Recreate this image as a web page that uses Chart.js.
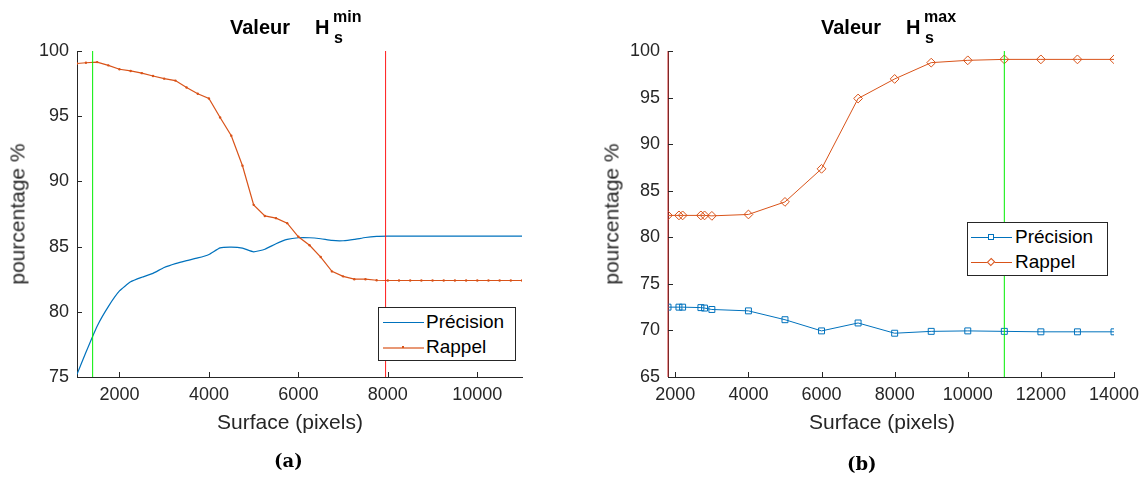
<!DOCTYPE html>
<html lang="fr">
<head>
<meta charset="UTF-8">
<title>Valeur Hs min / max</title>
<script src="https://cdn.jsdelivr.net/npm/chart.js"></script>
<style>
    body { margin: 0; background: #fff; width: 1139px; height: 477px; position: relative; overflow: hidden;
           font-family: "Liberation Sans", Arial, sans-serif; color: #262626; }
    .panel { position: absolute; top: 0; }
    .t { position: absolute; font-weight: bold; color: #000; line-height: 1; white-space: nowrap; }
    .big { font-size: 20px; }
    .small { font-size: 16px; }
    .axt { position: absolute; font-size: 21px; line-height: 1; white-space: nowrap; color: #262626;
           transform: translate(-50%, -50%); }
    .axt.rot { transform: translate(-50%, -50%) rotate(-90deg); }
    .legend { position: absolute; border: 1px solid #262626; background: #fff; box-sizing: border-box; font-size: 19px; }
    .row { position: absolute; left: 0; right: 0; height: 22px; }
    .row span { position: absolute; top: 0; line-height: 22px; color: #000; }
    .sample { position: absolute; top: 11px; height: 0; border-top: 1px solid; }
    .mk { position: absolute; box-sizing: border-box; border: 1px solid; background: transparent; }
    .caption { position: absolute; font-family: "DejaVu Serif", "Liberation Serif", serif; font-weight: bold;
               font-size: 18px; color: #000; line-height: 1; }
</style>
</head>
<body>

<div class="panel" style="left:0; width:560px; height:440px;">
    <canvas id="chartMin" width="560" height="440"></canvas>
</div>
<div class="panel" style="left:590px; width:549px; height:440px;">
    <canvas id="chartMax" width="549" height="440"></canvas>
</div>

<!-- titles -->
<div class="t big" style="left:230px; top:17px;">Valeur</div>
<div class="t big" style="left:315px; top:17px;">H</div>
<div class="t small" style="left:333px; top:9px;">min</div>
<div class="t small" style="left:334px; top:30px;">s</div>

<div class="t big" style="left:821px; top:17px;">Valeur</div>
<div class="t big" style="left:906px; top:17px;">H</div>
<div class="t small" style="left:924px; top:9px;">max</div>
<div class="t small" style="left:925px; top:30px;">s</div>

<!-- axis titles -->
<div class="axt rot" style="left:17px; top:214px;">pourcentage %</div>
<div class="axt" style="left:290px; top:421px;">Surface (pixels)</div>
<div class="axt rot" style="left:611px; top:214px;">pourcentage %</div>
<div class="axt" style="left:882px; top:421px;">Surface (pixels)</div>

<!-- legends -->
<div class="legend" style="left:378px; top:307px; width:138px; height:54px;">
    <div class="row" style="top:3px;">
        <div class="sample" style="left:4px; width:41px; border-color:#0072BD;"></div>
        <span style="left:47px;">Précision</span>
    </div>
    <div class="row" style="top:28px;">
        <div class="sample" style="left:4px; width:41px; border-color:#D95319; border-top-width:2px; opacity:0.6;"></div>
        <div class="mk" style="left:23px; top:10px; width:2px; height:2px; background:#D95319; border-color:#D95319;"></div>
        <span style="left:47px;">Rappel</span>
    </div>
</div>

<div class="legend" style="left:967px; top:222px; width:141px; height:54px;">
    <div class="row" style="top:3px;">
        <div class="sample" style="left:3px; width:41px; border-color:#0072BD;"></div>
        <div class="mk" style="left:20px; top:8px; width:6px; height:6px; border-color:#0072BD; background:#fff;"></div>
        <span style="left:47px;">Précision</span>
    </div>
    <div class="row" style="top:28px;">
        <div class="sample" style="left:3px; width:41px; border-color:#D95319;"></div>
        <div class="mk" style="left:20px; top:8px; width:6px; height:6px; border-color:#D95319; background:#fff; transform:rotate(45deg) scale(0.95,1.05);"></div>
        <span style="left:47px;">Rappel</span>
    </div>
</div>

<div class="caption" style="left:274px; top:452px;">(a)</div>
<div class="caption" style="left:847px; top:455px;">(b)</div>

<script>
    // ---- data (a) : Hs min ----
    const surfaceMin = [1050, 1250, 1500, 1750, 2000, 2250, 2500, 2750, 3000, 3250, 3500, 3750, 4000,
        4250, 4500, 4750, 5000, 5250, 5500, 5750, 6000, 6250, 6500, 6750, 7000, 7250, 7500, 7750,
        8000, 8250, 8500, 8750, 9000, 9250, 9500, 9750, 10000, 10250, 10500, 10750, 11000];
    const precisionMin = [75.2, 76.9, 78.9, 80.4, 81.6, 82.3, 82.65, 82.95, 83.4, 83.7, 83.93, 84.13, 84.4,
        84.9, 84.96, 84.88, 84.6, 84.8, 85.22, 85.55, 85.68, 85.68, 85.6, 85.47, 85.45, 85.55, 85.7, 85.78,
        85.8, 85.8, 85.8, 85.8, 85.8, 85.8, 85.8, 85.8, 85.8, 85.8, 85.8, 85.8, 85.8];
    const rappelMin = [99.04, 99.1, 99.15, 98.9, 98.6, 98.47, 98.3, 98.08, 97.88, 97.73, 97.2, 96.72, 96.36,
        94.9, 93.5, 91.2, 88.2, 87.35, 87.18, 86.8, 85.75, 85.1, 84.2, 83.1, 82.72, 82.5, 82.5, 82.42,
        82.4, 82.4, 82.4, 82.4, 82.4, 82.4, 82.4, 82.4, 82.4, 82.4, 82.4, 82.4, 82.4];
    const markersMin = { green: 1400, red: 7950 };
    const xTicksMin = [2000, 4000, 6000, 8000, 10000];
    const yTicksMin = [75, 80, 85, 90, 95, 100];

    // ---- data (b) : Hs max ----
    const surfaceMax = [1800, 2100, 2200, 2700, 2800, 3000, 4000, 5000, 6000, 7000, 8000, 9000, 10000,
        11000, 12000, 13000, 14000];
    const precisionMax = [72.5, 72.5, 72.5, 72.45, 72.4, 72.25, 72.1, 71.15, 69.95, 70.8, 69.7, 69.9, 69.95,
        69.9, 69.85, 69.85, 69.85];
    const rappelMax = [82.35, 82.35, 82.35, 82.35, 82.35, 82.3, 82.45, 83.8, 87.35, 94.9, 97.0, 98.75, 99.0,
        99.1, 99.1, 99.1, 99.1];
    const markersMax = { green: 11000, red: 1800 };
    const xTicksMax = [2000, 4000, 6000, 8000, 10000, 12000, 14000];
    const yTicksMax = [65, 70, 75, 80, 85, 90, 95, 100];

    const BLUE = '#0072BD';
    const ORANGE = '#D95319';
    const AXIS = '#262626';

    const toPoints = (xs, ys) => xs.map((x, i) => ({ x: x, y: ys[i] }));
    const vline = (x, y0, y1, color) => ({
        data: [{ x: x, y: y0 }, { x: x, y: y1 }],
        borderColor: color, borderWidth: 1, pointRadius: 0, clip: false, order: 0
    });

    // small inward tick marks, MATLAB style
    const innerTicks = {
        id: 'innerTicks',
        afterDraw(chart) {
            const { ctx, chartArea, scales: { x, y } } = chart;
            ctx.save();
            ctx.strokeStyle = AXIS;
            ctx.lineWidth = 1;
            x.ticks.forEach(t => {
                const px = Math.round(x.getPixelForValue(t.value)) + 0.5;
                ctx.beginPath();
                ctx.moveTo(px, chartArea.bottom);
                ctx.lineTo(px, chartArea.bottom - 5);
                ctx.stroke();
            });
            y.ticks.forEach(t => {
                const py = Math.round(y.getPixelForValue(t.value)) + 0.5;
                ctx.beginPath();
                ctx.moveTo(chartArea.left, py);
                ctx.lineTo(chartArea.left + 5, py);
                ctx.stroke();
            });
            ctx.restore();
        }
    };

    function makeChart(id, cfg) {
        const font = { family: '"Liberation Sans", Arial, sans-serif', size: 18 };
        return new Chart(document.getElementById(id), {
            type: 'line',
            data: { datasets: cfg.datasets },
            options: {
                responsive: false,
                animation: false,
                layout: { padding: { top: 51, right: cfg.padRight, left: 0, bottom: 0 } },
                plugins: { legend: { display: false }, tooltip: { enabled: false } },
                scales: {
                    x: {
                        type: 'linear', min: cfg.xMin, max: cfg.xMax,
                        afterBuildTicks(s) { s.ticks = cfg.xTicks.map(v => ({ value: v })); },
                        ticks: { autoSkip: false, maxRotation: 0, font: font, color: AXIS, padding: 7,
                                 callback: v => String(v) },
                        grid: { display: false, drawTicks: false },
                        border: { display: true, color: AXIS, width: 1 },
                        afterFit(s) {
                            s.height = 440 - cfg.bottom;
                            s.paddingLeft = 0;
                            s.paddingRight = 0;
                        }
                    },
                    y: {
                        min: cfg.yTicks[0], max: cfg.yTicks[cfg.yTicks.length - 1],
                        afterBuildTicks(s) { s.ticks = cfg.yTicks.map(v => ({ value: v })); },
                        ticks: { font: font, color: AXIS, padding: 8, callback: v => String(v) },
                        grid: { display: false, drawTicks: false },
                        border: { display: true, color: AXIS, width: 1 },
                        afterFit(s) {
                            s.width = cfg.yWidth;
                            s.paddingTop = 0;
                            s.paddingBottom = 0;
                        }
                    }
                }
            },
            plugins: [innerTicks]
        });
    }

    makeChart('chartMin', {
        padRight: 38, yWidth: 77, bottom: 377, xMin: 1050, xMax: 11000,
        xTicks: xTicksMin, yTicks: yTicksMin,
        datasets: [
            vline(markersMin.green, 75, 100, '#00ee00'),
            vline(markersMin.red, 75, 100, '#ff1a1a'),
            { data: toPoints(surfaceMin, precisionMin), borderColor: BLUE, borderWidth: 1.2,
              pointRadius: 0, tension: 0.15, order: 2 },
            { data: toPoints(surfaceMin, rappelMin), borderColor: ORANGE, borderWidth: 1.2,
              pointRadius: 1.2, pointBackgroundColor: ORANGE, pointBorderWidth: 0, tension: 0, order: 1 }
        ]
    });

    makeChart('chartMax', {
        padRight: 25, yWidth: 78, bottom: 377, xMin: 1800, xMax: 14000,
        xTicks: xTicksMax, yTicks: yTicksMax,
        datasets: [
            vline(markersMax.green, 65, 100, '#00ee00'),
            vline(markersMax.red, 65, 100, '#d22a2a'),
            { data: toPoints(surfaceMax, precisionMax), borderColor: BLUE, borderWidth: 1,
              pointStyle: 'rect', pointRadius: 4.2, pointBorderColor: BLUE, pointBorderWidth: 1,
              pointBackgroundColor: 'rgba(0,0,0,0)', order: 2 },
            { data: toPoints(surfaceMax, rappelMax), borderColor: ORANGE, borderWidth: 1,
              pointStyle: 'rectRot', pointRadius: 4.4, pointBorderColor: ORANGE, pointBorderWidth: 1,
              pointBackgroundColor: 'rgba(0,0,0,0)', order: 1 }
        ]
    });
</script>
</body>
</html>
